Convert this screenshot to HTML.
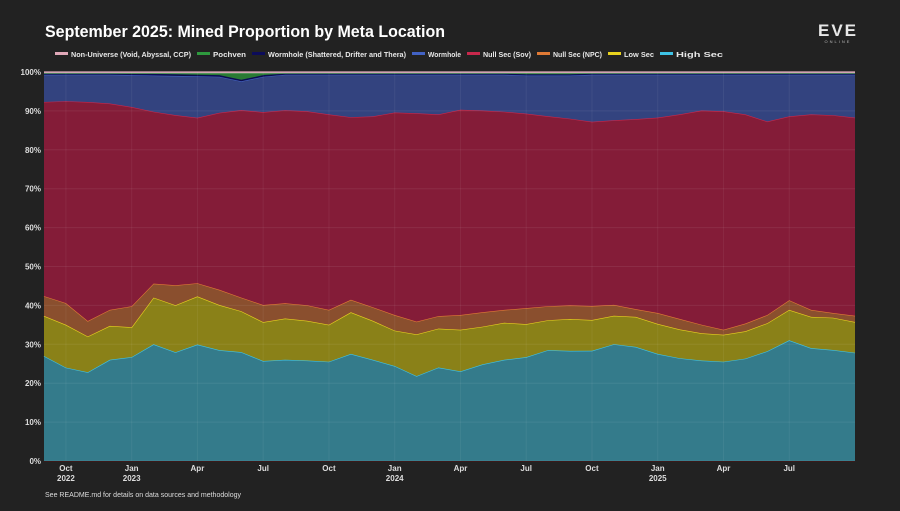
<!DOCTYPE html>
<html><head><meta charset="utf-8"><style>
html,body{margin:0;padding:0;background:#222222;}
body{width:900px;height:506px;overflow:hidden;font-family:"Liberation Sans",sans-serif;}
svg text{font-family:"Liberation Sans",sans-serif;}
</style></head><body>
<svg id="chart" width="900" height="506" viewBox="0 0 900 506" xmlns="http://www.w3.org/2000/svg">
<rect x="0" y="0" width="900" height="506" fill="#222222"/>
<text x="45" y="37" fill="#ffffff" font-size="17" font-weight="bold" textLength="400" lengthAdjust="spacingAndGlyphs">September 2025: Mined Proportion by Meta Location</text>
<g>
<text x="838" y="36" fill="#e8e8e8" font-size="17" font-weight="bold" text-anchor="middle" letter-spacing="2">EVE</text>
<text x="838" y="43" fill="#bbbbbb" font-size="4" text-anchor="middle" letter-spacing="2">ONLINE</text>
</g>
<g id="legend"></g>
<g id="plot"></g>
<g id="yaxis"></g>
<g id="xaxis"></g>
<text x="45" y="497" fill="#dddddd" font-size="7.5" textLength="196" lengthAdjust="spacingAndGlyphs">See README.md for details on data sources and methodology</text>
</svg>
<script>
const highSec=[27,24,22.8,26,26.7,30,28,30,28.5,28,25.7,26,25.8,25.5,27.5,26,24.4,21.8,24,23,24.8,26,26.7,28.5,28.3,28.3,30,29.3,27.5,26.4,25.8,25.5,26.3,28.2,31,29,28.5,27.8];
const lowSec=[10.3,11,9.2,8.7,7.7,12,12.1,12.4,11.6,10.5,10,10.6,10.2,9.5,10.7,10,9.1,10.7,10,10.7,9.7,9.5,8.5,7.7,8.2,7.9,7.3,7.7,7.7,7.4,7,6.9,7,7.2,7.8,8,8.3,7.9];
const nullNpc=[5.1,5.6,4,4.1,5.4,3.6,5.1,3.4,3.9,3.5,4.4,3.9,4,3.8,3.2,3.5,4,3.3,3.2,3.8,3.7,3.3,4.1,3.6,3.5,3.6,2.8,2,2.8,2.7,2.2,1.3,2,2.1,2.5,1.8,1.2,1.6];
const nullSov=[49.9,51.9,56.3,53,51.2,44.2,43.8,42.6,45.5,48.2,49.6,49.6,49.8,50.2,46.9,49,52,53.5,51.8,52.7,51.8,50.9,50,48.8,48,47.3,47.4,48.8,50.2,52.5,55,56.1,53.7,49.7,47.2,50.2,50.8,50.9];
const wormhole=[7,6.8,7,7.4,8.2,9.3,10.1,10.7,9.3,7.4,9.1,9.1,9.4,10.2,10.9,10.7,9.7,9.9,10.2,9,9.2,9.5,9.8,10.5,11.1,12.1,11.7,11.4,11,10.2,9.2,9.4,10.2,12,10.7,10.2,10.4,11];
const shattered=[0.3,0.3,0.3,0.3,0.3,0.4,0.4,0.4,0.4,0.4,0.4,0.3,0.3,0.3,0.3,0.3,0.3,0.3,0.3,0.3,0.3,0.3,0.3,0.3,0.3,0.3,0.3,0.3,0.3,0.3,0.3,0.3,0.3,0.3,0.3,0.3,0.3,0.3];
const pochven=[0.1,0.1,0.1,0.1,0.2,0.2,0.3,0.4,0.5,1.7,0.5,0.1,0.1,0.1,0.1,0.1,0.1,0.1,0.1,0.1,0.1,0.1,0.3,0.3,0.3,0.1,0.1,0.1,0.1,0.1,0.1,0.1,0.1,0.1,0.1,0.1,0.1,0.1];
const nonUniverse=[0.3,0.3,0.3,0.3,0.3,0.3,0.3,0.3,0.3,0.3,0.3,0.3,0.3,0.3,0.3,0.3,0.3,0.3,0.3,0.3,0.3,0.3,0.3,0.3,0.3,0.3,0.3,0.3,0.3,0.3,0.3,0.3,0.3,0.3,0.3,0.3,0.3,0.3];
const startMonth=0;
const yTicks=[0,10,20,30,40,50,60,70,80,90,100];
const xTickMonths=[1,4,7,10,13,16,19,22,25,28,31,34];
const xTickLabels=["Oct","Jan","Apr","Jul","Oct","Jan","Apr","Jul","Oct","Jan","Apr","Jul"];
const xTickYears=["2022","2023","","","","2024","","","","2025","",""];

const NS="http://www.w3.org/2000/svg";
const L=44,R=855,T=72,B=461;
const nPts=highSec.length;
const totalMonths=37;
function xOf(i){return L+(R-L)*i/(nPts-1);}
function xMonth(m){return L+(R-L)*(m-startMonth)/totalMonths;}
function yOf(v){return B-(B-T)*v/100;}
function mk(tag,attrs,parent){const e=document.createElementNS(NS,tag);for(const k in attrs)e.setAttribute(k,attrs[k]);parent.appendChild(e);return e;}

const series=[
 {key:"high-sec",label:"High Sec",data:highSec,fill:"#347b8b",line:"#3ec3e6"},
 {key:"low-sec",label:"Low Sec",data:lowSec,fill:"#8a8118",line:"#e8d21e"},
 {key:"null-sec-npc",label:"Null Sec (NPC)",data:nullNpc,fill:"#8a4f2e",line:"#e07a35"},
 {key:"null-sec-sov",label:"Null Sec (Sov)",data:nullSov,fill:"#841c38",line:"#c8284c"},
 {key:"wormhole",label:"Wormhole",data:wormhole,fill:"#33437f",line:"#4262c4"},
 {key:"wormhole-shattered",label:"Wormhole (Shattered, Drifter and Thera)",data:shattered,fill:"#0c0c4a",line:"#0c0c5a"},
 {key:"pochven",label:"Pochven",data:pochven,fill:"#2a7a34",line:"#2e9a3e"},
 {key:"non-universe",label:"Non-Universe (Void, Abyssal, CCP)",data:nonUniverse,fill:"#b89aa8",line:"#e0a8b8"}
];
const plot=document.getElementById('plot');
const totals=[];for(let i=0;i<nPts;i++){let s=0;series.forEach(se=>s+=se.data[i]);totals.push(s);}
let base=new Array(nPts).fill(0);
series.forEach(se=>{
  const top=base.map((b,i)=>b+se.data[i]/totals[i]*100);
  let d="M"+xOf(0)+","+yOf(top[0]);
  for(let i=1;i<nPts;i++)d+=" L"+xOf(i).toFixed(1)+","+yOf(top[i]).toFixed(1);
  let area=d;
  for(let i=nPts-1;i>=0;i--)area+=" L"+xOf(i).toFixed(1)+","+yOf(base[i]).toFixed(1);
  area+=" Z";
  const a=mk('path',{d:area,fill:se.fill,stroke:'none'},plot);
  
  
  const ln=mk('path',{d:d,fill:'none',stroke:se.line,'stroke-width':1.2},plot);
  
  
  base=top;
});
const yax=document.getElementById('yaxis');
yTicks.forEach(t=>{
  const g=mk('line',{x1:L,x2:R,y1:yOf(t),y2:yOf(t),stroke:'rgba(255,255,255,0.07)','stroke-width':1},plot);
  
  
  const tx=mk('text',{x:L-3,y:yOf(t)+3,fill:'#dddddd','font-size':8,'text-anchor':'end','font-weight':'bold'},yax);
  tx.textContent=t+'%';
  
  
});
const xax=document.getElementById('xaxis');
xTickMonths.forEach((m,i)=>{
  const x=xMonth(m);
  const g=mk('line',{x1:x,x2:x,y1:T,y2:B,stroke:'rgba(255,255,255,0.06)','stroke-width':1},plot);
  
  
  const tx=mk('text',{x:x,y:471,fill:'#dddddd','font-size':8,'text-anchor':'middle','font-weight':'bold'},xax);
  tx.textContent=xTickLabels[i];
  
  
  if(xTickYears[i]){
    const ty=mk('text',{x:x,y:481,fill:'#dddddd','font-size':8,'text-anchor':'middle','font-weight':'bold'},xax);
    ty.textContent=xTickYears[i];
    
    
  }
});
const axl=mk('line',{x1:L,x2:R,y1:B+0.5,y2:B+0.5,stroke:'#3a1a1a','stroke-width':1},xax);


const leg=document.getElementById('legend');
const legOrder=[7,6,5,4,3,2,1,0];
const legX=[55,197,252,412,467,537,608,660,729];
legOrder.forEach((si,k)=>{
  const se=series[si];
  const g=mk('g',{},leg);
  
  
  mk('rect',{x:legX[k],y:52,width:13,height:3,fill:se.line},g);
  const w=legX[k+1]-legX[k]-22;
  const t=mk('text',{x:legX[k]+16,y:57,fill:'#e8e8e8','font-size':7.5,'font-weight':'bold',textLength:w,lengthAdjust:'spacingAndGlyphs'},g);
  t.textContent=se.label;
});
</script>
</body></html>
